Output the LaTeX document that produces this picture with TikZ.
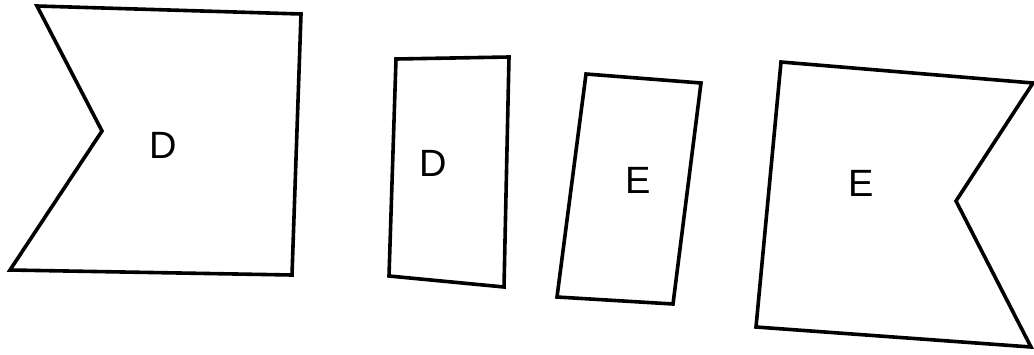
\documentclass[tikz,border=0pt]{standalone}
\usepackage{fontspec}
\setmainfont{Liberation Sans}
\begin{document}
\begin{tikzpicture}[x=1pt,y=-1pt,
  shapeline/.style={draw=black,line width=3.6pt,line join=miter,fill=white},
  lbl/.style={font=\fontsize{38}{40}\selectfont,inner sep=0pt}]
\useasboundingbox (0,0) rectangle (1034,354);
\draw[shapeline] (37,6) -- (301,14) -- (292,275) -- (10,270) -- (102,131) -- cycle;
\node[lbl] (d1) at (163,145) {D};
\draw[shapeline] (396,59) -- (509,57) -- (504,287) -- (389,276) -- cycle;
\node[lbl] (d2) at (433,163) {D};
\draw[shapeline] (586,74) -- (701,83) -- (673,304) -- (557,297) -- cycle;
\node[lbl] (e1) at (638,180) {E};
\draw[shapeline] (781,62) -- (1033,83) -- (956,201) -- (1031,347) -- (756,327) -- cycle;
\node[lbl] (e2) at (861,183) {E};
\end{tikzpicture}
\end{document}
